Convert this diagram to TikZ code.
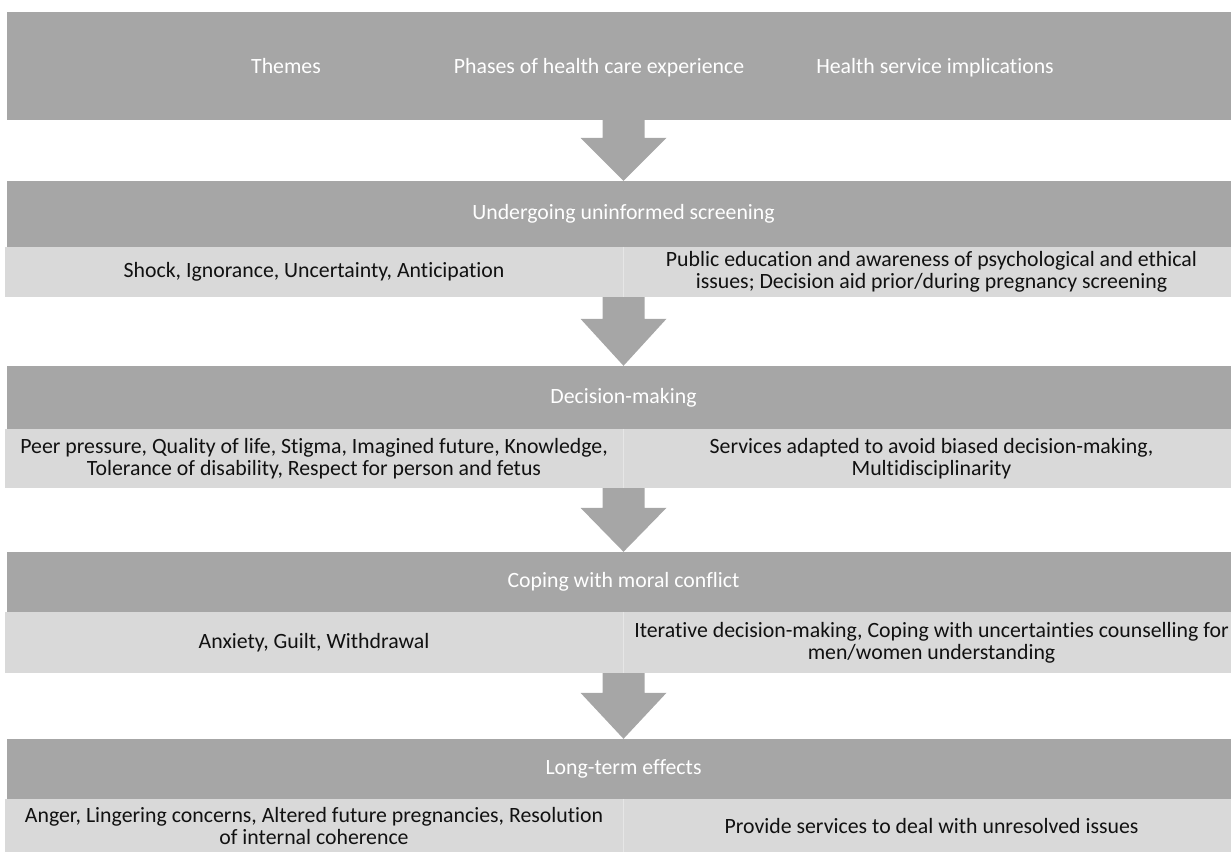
\documentclass[tikz,border=0pt]{standalone}
\usepackage{fontspec}
\setmainfont{Carlito}[Ligatures={NoCommon,NoRare,NoContextual}]
\usetikzlibrary{calc}
\definecolor{dk}{HTML}{A6A6A6}
\definecolor{lt}{HTML}{D9D9D9}
\definecolor{sep}{HTML}{E6E6E6}
\definecolor{ink}{HTML}{111111}
\newcommand\diagfont{\fontsize{21.8}{22}\selectfont}
\tikzset{
  txt/.style={font=\diagfont, align=center, inner sep=0pt},
  hdrtxt/.style={txt, text=white, anchor=base},
  darkbox/.style={fill=dk, draw=none, inner sep=0pt, text=white, font=\diagfont},
  lightcell/.style={fill=lt, draw=none, inner sep=0pt, text=ink, align=center, font=\diagfont},
  blockarrow/.style={fill=dk, draw=none}
}
\newcommand\downarrowshape[3]{% #1 upper node, #2 lower node, #3 head height
  \fill[blockarrow] let \p1=(#1.south), \p2=(#2.north), \p3=(#2.center) in
    (\x3-21pt,\y1) -- (\x3+21pt,\y1) -- (\x3+21pt,\y2+#3) -- (\x3+43pt,\y2+#3)
    -- (\x3,\y2) -- (\x3-43pt,\y2+#3) -- (\x3-21pt,\y2+#3) -- cycle;}
\begin{document}
\begin{tikzpicture}[x=1pt,y=-1pt]
\useasboundingbox (0,0) rectangle (1231,852);
% header
\node[darkbox, minimum width=1233pt, minimum height=108pt] (hdr) at (623.5,66) {};
\node[hdrtxt] (th) at (286,73) {Themes};
\node[hdrtxt] (ph) at (599,73) {Phases of health care experience};
\node[hdrtxt] (hs) at (935,73) {Health service implications};
% phase 1
\node[darkbox, minimum width=1233pt, minimum height=66pt] (t1) at (623.5,214) {Undergoing uninformed screening};
\node[lightcell, minimum width=618pt, minimum height=50pt] (a1) at (314,272) {Shock, Ignorance, Uncertainty, Anticipation};
\node[lightcell, minimum width=617pt, minimum height=50pt] (b1) at (931.5,272) {Public education and awareness of psychological and ethical\\issues; Decision aid prior/during pregnancy screening};
% phase 2
\node[darkbox, minimum width=1233pt, minimum height=63pt] (t2) at (623.5,397.5) {Decision-making};
\node[lightcell, minimum width=618pt, minimum height=59pt] (a2) at (314,458.5) {Peer pressure, Quality of life, Stigma, Imagined future, Knowledge,\\Tolerance of disability, Respect for person and fetus};
\node[lightcell, minimum width=617pt, minimum height=59pt] (b2) at (931.5,458.5) {Services adapted to avoid biased decision-making,\\Multidisciplinarity};
% phase 3
\node[darkbox, minimum width=1233pt, minimum height=60pt] (t3) at (623.5,582) {Coping with moral conflict};
\node[lightcell, minimum width=618pt, minimum height=61pt] (a3) at (314,642.5) {Anxiety, Guilt, Withdrawal};
\node[lightcell, minimum width=617pt, minimum height=61pt] (b3) at (931.5,642.5) {Iterative decision-making, Coping with uncertainties counselling for\\men/women understanding};
% phase 4
\node[darkbox, minimum width=1233pt, minimum height=60pt] (t4) at (623.5,769) {Long-term effects};
\node[lightcell, minimum width=618pt, minimum height=53pt] (a4) at (314,825.5) {Anger, Lingering concerns, Altered future pregnancies, Resolution\\of internal coherence};
\node[lightcell, minimum width=617pt, minimum height=53pt] (b4) at (931.5,825.5) {Provide services to deal with unresolved issues};
% cell dividers
\draw[sep, line width=1pt] (a1.north east) -- (a1.south east);
\draw[sep, line width=1pt] (a2.north east) -- (a2.south east);
\draw[sep, line width=1pt] (a3.north east) -- (a3.south east);
\draw[sep, line width=1pt] (a4.north east) -- (a4.south east);
% arrows
\downarrowshape{hdr}{t1}{43pt}
\downarrowshape{a1}{t2}{47pt}
\downarrowshape{a2}{t3}{44pt}
\downarrowshape{a3}{t4}{46pt}
\end{tikzpicture}
\end{document}
